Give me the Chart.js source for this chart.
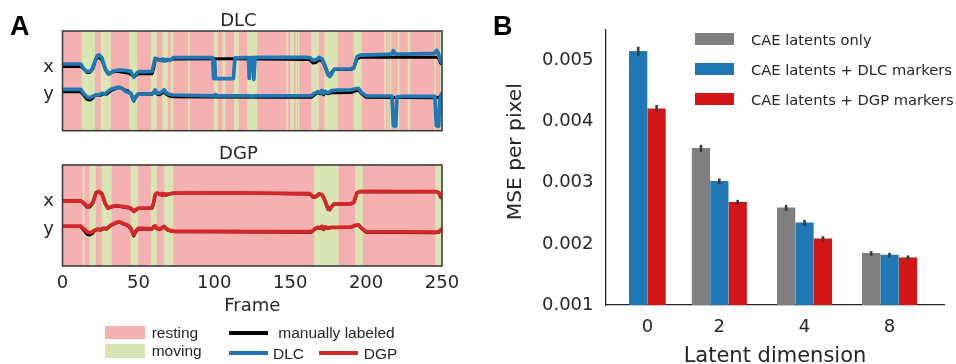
<!DOCTYPE html>
<html><head><meta charset="utf-8">
<script src="https://cdn.jsdelivr.net/npm/chart.js@4.4.1/dist/chart.umd.min.js"></script>
<style>
html,body{margin:0;padding:0;background:#fff;width:956px;height:364px;overflow:hidden;position:relative;font-family:"DejaVu Sans",sans-serif;color:#262626}
canvas{position:absolute}
.lbl{position:absolute;font-family:"Liberation Sans",Arial,sans-serif;font-weight:bold;font-size:27px;line-height:27px;color:#000}
.lt{position:absolute;white-space:nowrap;height:20px;line-height:20px}
.sw{position:absolute}
</style></head><body>
<canvas id="dgp" width="480" height="224" style="left:0px;top:140px"></canvas>
<canvas id="dlc" width="470" height="170" style="left:0px;top:0px"></canvas>
<canvas id="mse" width="476" height="380" style="left:480px;top:0px"></canvas>
<div class="lbl" style="left:10px;top:13px">A</div>
<div class="lbl" style="left:493px;top:13px">B</div>
<div id="legA"></div><div id="legB"></div>
<script>
// ---------------- DATA: panel A ----------------
const frameTicks = [0, 50, 100, 150, 200, 250];
const traceAxisLabels = ['x', 'y'];
const traceAxisLevels = [64, 36];

// behaviour bands (frames) where the animal is "moving"; everything else is "resting"
const dlcMovingStart = [12.6,25.2,44,58.1,65.7,71.3,82.7,99.8,105.3,113,121.7,147.4,150.1,153.6,155.1,163.9,172.5,191.8,212,214.2,215.8,220.8,227.4,244.9,248.7];
const dlcMovingEnd   = [21.4,31.8,49.3,62,69.3,73,84,102.4,107.3,116.1,128.1,148.6,152.5,154.5,156,168.8,181.3,197.1,213.1,214.9,216.6,221.9,229.1,246,250];
const dgpMovingStart = [13.3,17.7,25.8,44.9,58.1,66.9,165.7,192.7,245.6];
const dgpMovingEnd   = [14.4,21.9,32.4,49.9,62.1,73,182,197.8,250];

// traces: [frame, normalised position]
const manualX = [[0,64.5],[12,64.5],[14,62],[16,58.5],[18,58.5],[20,62],[22,72],[24,73.5],[26,71],[28,62],[30,57],[32,58.5],[36,59.5],[40,58.5],[44,57.5],[46,55.5],[47,53.8],[48,55],[50,57],[59,57],[60,62],[61,70],[62,72],[64,71.5],[66,70],[67,71.5],[68,70],[70,71],[73,72],[110,72.2],[130,72],[163,71.3],[165,68],[167,68.5],[169,71],[171,70.5],[173,64],[175,56],[176,55.5],[177,58],[179,61.4],[190,61.4],[192,63],[194,72],[196,73.6],[246,73.6],[248,72.5],[249,68],[250,67]];
const manualY = [[0,39.1],[12,39],[14,35.5],[16,31.5],[18,30.7],[20,32.5],[21,35],[23,36],[25,35.5],[27,37],[29,36.5],[31,39],[33,41],[35,42.3],[37,43.5],[39,42.5],[41,41],[43,40],[45,37],[46.5,31],[47,29.7],[48,33],[50,37],[59,36.5],[60,38.5],[61,39.5],[62,37],[64,36],[66,38],[67,39],[68,37],[70,35],[73,34],[100,33.8],[140,33.6],[164,33.5],[166,36],[168,38],[170,37],[171,39],[172,36],[173,38.5],[175,37],[177,38],[180,38],[190,38.3],[193,40],[195,40.5],[197,37],[200,33.5],[246,33],[248,33.5],[249,35],[250,36]];
const dlcX = [[0,66.9],[12,66.9],[14,62],[16,59.2],[19,60],[21,68],[23,75.5],[24,76],[26,73],[28,63],[30,57.5],[31,56.9],[33,59.5],[37,60.9],[42,60.3],[45,59.5],[46,56],[47,53.6],[48,56],[50,59.2],[55,59.2],[59,59.5],[60,66],[61,72.6],[63,71],[65,70.4],[66,72],[67,70],[69,71.5],[71,70.5],[73,73.2],[99,73.2],[99.5,52.3],[100.3,70],[100.8,52.3],[101.5,52.3],[112,52.3],[112.6,52.5],[113.6,73],[122.5,73.4],[123,52.5],[123.8,73.2],[125.5,73.4],[126,51.5],[126.8,73.4],[128,73.6],[160,73.6],[163,73.2],[165,70.5],[167,71],[169,73.5],[171,72],[173,65],[175,56],[176,54.2],[177,56],[179,61.9],[190,61.9],[192,63.5],[194,74],[196,75.9],[215,76.5],[217,77.5],[218,80.2],[219,77],[225,76.8],[245,77.5],[246.5,80.6],[247.5,78],[249,70],[250,68.2]];
const dlcY = [[0,41.5],[12,41.5],[14,37],[16,34],[18,33],[20,34.5],[22,36],[24,36],[26,37.5],[28,37],[30,39.5],[32,41.5],[35,43],[37,43.5],[39,42.5],[42,39],[45,37.5],[46.5,32],[47,30.1],[48,34],[50,37],[58,36.8],[60,38],[61,41],[62,38],[64,37.5],[66,39.5],[67,41],[68,38.5],[70,36.5],[73,35.8],[100,35],[100.5,36.2],[101,35],[124,35],[125,34.2],[126,35],[164,35.2],[166,37.5],[168,39],[170,38],[171,40.5],[172,37.5],[173,39.5],[175,38],[177,40],[180,40.8],[190,40.8],[193,42],[195,42.5],[197,38],[200,35],[217,34.8],[218,5],[219.5,4.5],[220.3,34],[224,34.5],[245.3,34.5],[246.3,5],[247.8,4.5],[248.7,33],[250,37.5]];
const dgpX = [[0,64.3],[12,64.4],[14,62.5],[16,59],[18,59.5],[20,63],[22,72.5],[24,73.8],[26,71.5],[28,62.5],[30,57.3],[32,58.8],[36,59.8],[40,58.8],[44,57.8],[46,56],[47,54.2],[48,55.5],[50,57.3],[59,57.3],[60,63],[61,70.5],[62,72.2],[64,71.2],[65,70.5],[66,71.8],[67,70.3],[68,71.2],[70,71.3],[73,72.2],[110,72.4],[130,72.2],[163,71.6],[165,68.5],[167,69],[169,71.5],[171,70.8],[173,64.5],[175,56.5],[176,55.8],[177,58.5],[179,61.6],[190,61.6],[192,63.5],[194,72.5],[196,73.8],[246,73.6],[248,72.8],[249,68.5],[250,67.5]];
const dgpY = [[0,39.5],[12,39.4],[14,37],[16,34],[18,33],[20,34],[21,35.5],[23,36.5],[25,36],[27,37.5],[29,37],[31,39.5],[33,41.5],[35,42.8],[37,43.8],[39,42.8],[41,41.5],[43,40.3],[45,37.5],[46.5,32],[47,31],[48,34],[50,37.3],[59,37],[60,38.8],[61,40],[62,37.5],[64,36.5],[66,38.3],[67,39.3],[68,37.5],[70,35.5],[73,34.5],[100,34.2],[140,34],[164,34],[166,36.5],[168,38.3],[170,37.5],[171,39.3],[172,36.5],[173,38.8],[175,37.5],[177,38.3],[180,38.3],[190,38.5],[193,40.3],[195,40.8],[197,37.5],[200,34],[246,33.5],[248,34],[249,35.5],[250,36.5]];

// ---------------- DATA: panel B ----------------
const latentDims = ['0', '2', '4', '8'];
const mseCAE = [null, 0.003563, 0.002589, 0.001844];
const mseDLC = [0.005152, 0.003024, 0.002344, 0.001816];
const mseDGP = [0.004211, 0.002682, 0.002083, 0.001773];
const errCAE = [null, 0.000057, 0.000049, 0.000038];
const errDLC = [0.000076, 0.000046, 0.000049, 0.000038];
const errDGP = [0.000062, 0.000038, 0.000044, 0.000038];
const mseTicks = [0.001, 0.002, 0.003, 0.004, 0.005];

// ---------------- styling / layout ----------------
const PINK = '#f5b1b2', GREEN = '#d9e6b3', BLUE = '#1f77b4', RED = '#d62728', BLACK = '#000000';
const BAR_GRAY = '#7f7f7f', BAR_BLUE = '#1f77b4', BAR_RED = '#d41616';
const TXT = '#262626';
const groupCenters = [2.25, 6.16, 10.79, 15.41]; // x positions of bar groups (slot units)
const slotMax = 18.37;

Chart.defaults.font.family = "'DejaVu Sans', sans-serif";
Chart.defaults.color = TXT;
Chart.defaults.animation = false;

const pts = arr => arr.map(p => ({x: p[0], y: p[1]}));
function bandPoints(starts, ends) {
  const p = [{x: frameTicks[0], y: 0}];
  starts.forEach((s, i) => { p.push({x: s, y: 1}); p.push({x: ends[i], y: 0}); });
  return p;
}

const boxPlugin = {
  id: 'box',
  afterDatasetsDraw(chart) {
    const a = chart.chartArea, c = chart.ctx;
    c.save(); c.strokeStyle = '#3d3d3d'; c.lineWidth = 1.6;
    c.strokeRect(a.left, a.top, a.right - a.left, a.bottom - a.top); c.restore();
  }
};

function traceConfig(title, tracker, trackerColor, trX, trY, mvS, mvE, showFrames, titlePadBottom) {
  const line = (label, data, color, w, order) => ({label, data: pts(data), borderColor: color, borderWidth: w,
    pointRadius: 0, fill: false, order, yAxisID: 'y', borderJoinStyle: 'round', borderCapStyle: 'round'});
  return {
    type: 'line',
    data: {datasets: [
      line(tracker, trX, trackerColor, 3.7, 0),
      line(tracker, trY, trackerColor, 3.7, 0),
      line('manually labeled', manualX, BLACK, 3, 1),
      line('manually labeled', manualY, BLACK, 3, 1),
      {label: 'moving', data: bandPoints(mvS, mvE), stepped: true, borderWidth: 0, borderColor: 'rgba(0,0,0,0)',
       pointRadius: 0, backgroundColor: GREEN, fill: 'origin', yAxisID: 'y2', order: 2},
      {label: 'resting', data: [{x: frameTicks[0], y: 1}, {x: frameTicks[frameTicks.length - 1], y: 1}], borderWidth: 0,
       borderColor: 'rgba(0,0,0,0)', pointRadius: 0, backgroundColor: PINK, fill: 'origin', yAxisID: 'y2', order: 3}
    ]},
    options: {
      responsive: false, animation: false, devicePixelRatio: 1,
      layout: {padding: {left: 0, right: 0, top: 0, bottom: 0}},
      plugins: {legend: {display: false}, tooltip: {enabled: false},
        title: {display: true, text: title, color: TXT, font: {size: 18, weight: 'normal', lineHeight: 1}, padding: {top: 0, bottom: titlePadBottom}}},
      scales: {
        x: {type: 'linear', min: frameTicks[0], max: frameTicks[frameTicks.length - 1], display: showFrames, offset: false,
            grid: {display: false, drawTicks: false}, border: {display: false},
            afterBuildTicks: s => { s.ticks = frameTicks.map(v => ({value: v})); },
            ticks: {font: {size: 18}, padding: 6.4, maxRotation: 0, autoSkip: false, color: TXT},
            title: {display: showFrames, text: 'Frame', color: TXT, font: {size: 18}, padding: {top: -5.2, bottom: 0}}},
        y: {min: 0, max: 100, grid: {display: false, drawTicks: false}, border: {display: false},
            afterBuildTicks: s => { s.ticks = traceAxisLevels.map(v => ({value: v})); },
            ticks: {font: {size: 18}, padding: 8.5, color: TXT, callback: v => traceAxisLabels[traceAxisLevels.indexOf(v)]}},
        y2: {min: 0, max: 1, display: false}
      }
    },
    plugins: [boxPlugin]
  };
}

function pin(chart, t) {
  for (let k = 0; k < 6; k++) {
    const a = chart.chartArea, p = chart.config.options.layout.padding;
    chart.config.options.layout.padding = {
      left: p.left + (t.left - a.left), top: p.top + (t.top - a.top),
      right: p.right + (a.right - t.right), bottom: p.bottom + (a.bottom - t.bottom)};
    chart.update('none');
  }
}

const dlcChart = new Chart(document.getElementById('dlc'), traceConfig('DLC', 'DLC', BLUE, dlcX, dlcY, dlcMovingStart, dlcMovingEnd, false, 1));
pin(dlcChart, {left: 62.5, right: 442, top: 31, bottom: 130.7});
const dgpChart = new Chart(document.getElementById('dgp'), traceConfig('DGP', 'DGP', RED, dgpX, dgpY, dgpMovingStart, dgpMovingEnd, true, 1.5));
pin(dgpChart, {left: 62.5, right: 442, top: 25, bottom: 126});

// ---------------- panel B ----------------
const barSeries = [
  {label: 'CAE latents only', values: mseCAE, errs: errCAE, color: BAR_GRAY},
  {label: 'CAE latents + DLC markers', values: mseDLC, errs: errDLC, color: BAR_BLUE},
  {label: 'CAE latents + DGP markers', values: mseDGP, errs: errDGP, color: BAR_RED}
];
const barDatasets = barSeries.map((s, si) => {
  const data = [];
  latentDims.forEach((d, gi) => {
    if (s.values[gi] == null) return;
    const present = barSeries.map((q, qi) => q.values[gi] == null ? -1 : qi).filter(q => q >= 0);
    const k = present.indexOf(si);
    data.push({x: groupCenters[gi] + k - (present.length - 1) / 2, y: s.values[gi], err: s.errs[gi]});
  });
  return {label: s.label, data, backgroundColor: s.color, borderWidth: 0, grouped: false, barThickness: 17.6, base: mseTicks[0]};
});

const errPlugin = {
  id: 'err',
  afterDatasetsDraw(chart) {
    const c = chart.ctx, ys = chart.scales.y;
    c.save(); c.strokeStyle = '#3b3b3b'; c.lineWidth = 2.6;
    chart.data.datasets.forEach((ds, di) => {
      chart.getDatasetMeta(di).data.forEach((bar, j) => {
        const d = ds.data[j];
        c.beginPath(); c.moveTo(bar.x, ys.getPixelForValue(d.y - d.err)); c.lineTo(bar.x, ys.getPixelForValue(d.y + d.err)); c.stroke();
      });
    });
    c.restore();
  }
};
const yTitlePlugin = {
  id: 'ytitle',
  afterDraw(chart, args, o) {
    const c = chart.ctx, a = chart.chartArea;
    c.save(); c.translate(a.left + o.dx, a.top + o.dy); c.rotate(-Math.PI / 2);
    c.font = o.size + "px 'DejaVu Sans'"; c.fillStyle = TXT; c.textAlign = 'center'; c.textBaseline = 'middle';
    c.fillText(o.text, 0, 0); c.restore();
  }
};

const mseChart = new Chart(document.getElementById('mse'), {
  type: 'bar',
  data: {datasets: barDatasets},
  options: {
    responsive: false, animation: false, devicePixelRatio: 1,
    layout: {padding: {left: 0, right: 0, top: 0, bottom: 0}},
    plugins: {legend: {display: false}, tooltip: {enabled: false},
      ytitle: {text: 'MSE per pixel', dx: -90.5, dy: 121.7, size: 20.2}},
    scales: {
      x: {type: 'linear', min: 0, max: slotMax, offset: false, grid: {display: false, drawTicks: false},
          border: {display: true, color: TXT, width: 1.3},
          afterBuildTicks: s => { s.ticks = groupCenters.map(v => ({value: v})); },
          ticks: {font: {size: 18}, padding: 11.4, color: TXT, maxRotation: 0, autoSkip: false,
                  callback: (v, i) => latentDims[i]},
          title: {display: true, text: 'Latent dimension', color: TXT, font: {size: 21}, padding: {top: -5, bottom: 0}}},
      y: {min: mseTicks[0], max: 0.0055, grid: {display: false, drawTicks: false},
          border: {display: true, color: TXT, width: 1.3},
          afterBuildTicks: s => { s.ticks = mseTicks.map(v => ({value: v})); },
          ticks: {font: {size: 18}, padding: 12.5, color: TXT, callback: v => v.toFixed(3)}}
    }
  },
  plugins: [errPlugin, yTitlePlugin]
});
pin(mseChart, {left: 126, right: 464, top: 30, bottom: 305});

// ---------------- HTML legends built from the datasets ----------------
function findDs(chart, label) { return chart.data.datasets.find(d => d.label === label); }
function addItem(parent, sw, color, text, tx, cy, font) {
  const s = document.createElement('div'); s.className = 'sw';
  s.style.cssText = `left:${sw[0]}px;top:${sw[1]}px;width:${sw[2]}px;height:${sw[3]}px;background:${color}`;
  parent.appendChild(s);
  const t = document.createElement('div'); t.className = 'lt'; t.textContent = text;
  t.style.cssText += `left:${tx}px;top:${cy - 10}px;font:${font}`;
  parent.appendChild(t);
}
const legA = document.getElementById('legA');
const fontA = "15.5px/20px 'Liberation Sans', Arial, sans-serif";
addItem(legA, [105, 326, 40, 13], findDs(dlcChart, 'resting').backgroundColor, 'resting', 151.7, 333, fontA);
addItem(legA, [105, 344, 40, 14], findDs(dlcChart, 'moving').backgroundColor, 'moving', 151.7, 351, fontA);
addItem(legA, [229, 331, 39, 4], findDs(dlcChart, 'manually labeled').borderColor, 'manually labeled', 278.3, 332.5, fontA);
addItem(legA, [229, 351, 39, 4], findDs(dlcChart, 'DLC').borderColor, 'DLC', 273, 353.5, fontA);
addItem(legA, [319, 351, 39, 4], findDs(dgpChart, 'DGP').borderColor, 'DGP', 363.8, 353.5, fontA);

const legB = document.getElementById('legB');
const fontB = "14.7px/20px 'DejaVu Sans', sans-serif";
mseChart.data.datasets.forEach((ds, i) => {
  addItem(legB, [695, 32.7 + 30 * i, 39.3, 12.3], ds.backgroundColor, ds.label, 751, 40.4 + 30 * i, fontB);
});
</script>
</body></html>
